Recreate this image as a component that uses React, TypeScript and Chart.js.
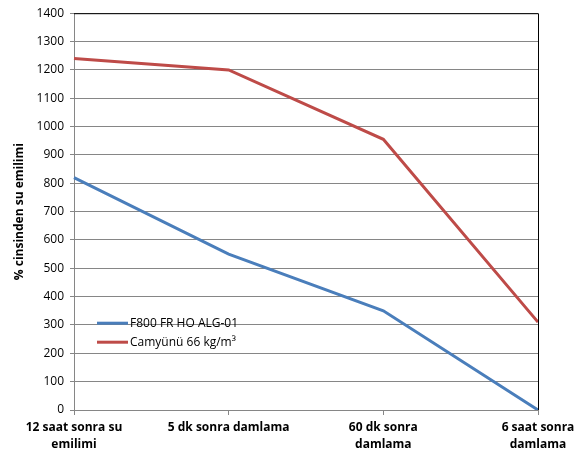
import React, { useEffect, useRef } from "react";
import { Chart, registerables } from "chart.js";

Chart.register(...registerables);

const categories: (string | string[])[] = [
  ["12 saat sonra su", "emilimi"],
  "5 dk sonra damlama",
  ["60 dk sonra", "damlama"],
  ["6 saat sonra", "damlama"],
];
const seriesF800 = [820, 550, 350, 0];
const seriesCamyunu = [1240, 1200, 955, 310];
const seriesNames = ["F800 FR HO ALG-01", "Camyünü 66 kg/m³"];
const seriesColors = ["#4A7EBB", "#BE4B48"];
const yTitle = "% cinsinden su emilimi";

const FONT = "'Open Sans', 'Liberation Sans', sans-serif";

const legendPlugin = {
  id: "insideLegend",
  afterDraw(chart: any) {
    const { ctx, chartArea } = chart;
    ctx.save();
    ctx.strokeStyle = "#000";
    ctx.lineWidth = 1;
    ctx.beginPath();
    ctx.moveTo(chartArea.left, chartArea.top + 0.5);
    ctx.lineTo(chartArea.right + 0.5, chartArea.top + 0.5);
    ctx.lineTo(chartArea.right + 0.5, chartArea.bottom);
    ctx.stroke();
    const x0 = chartArea.left + 23;
    const y0 = chartArea.top + 310;
    chart.data.datasets.forEach((ds: any, i: number) => {
      const y = y0 + i * 19;
      ctx.strokeStyle = ds.borderColor;
      ctx.lineWidth = 3;
      ctx.beginPath();
      ctx.moveTo(x0, y);
      ctx.lineTo(x0 + 31, y);
      ctx.stroke();
      ctx.fillStyle = "#000";
      ctx.font = `12px ${FONT}`;
      ctx.textBaseline = "middle";
      ctx.textAlign = "left";
      ctx.fillText(ds.label, x0 + 33, y);
    });
    ctx.restore();
  },
};

export default function App() {
  const ref = useRef<HTMLCanvasElement>(null);
  useEffect(() => {
    if (!ref.current) return;
    const chart = new Chart(ref.current, {
      type: "line",
      data: {
        labels: categories,
        datasets: [
          {
            label: seriesNames[0],
            data: seriesF800,
            borderColor: seriesColors[0],
            backgroundColor: seriesColors[0],
            borderWidth: 3,
            pointRadius: 0,
            tension: 0,
          },
          {
            label: seriesNames[1],
            data: seriesCamyunu,
            borderColor: seriesColors[1],
            backgroundColor: seriesColors[1],
            borderWidth: 3,
            pointRadius: 0,
            tension: 0,
          },
        ],
      },
      options: {
        responsive: false,
        animation: false,
        layout: { padding: { left: 0, right: 50, top: 12, bottom: 0 } },
        plugins: {
          legend: { display: false },
          tooltip: { enabled: false },
        },
        scales: {
          x: {
            type: "category",
            offset: false,
            grid: {
              drawOnChartArea: false,
              drawTicks: true,
              tickLength: 5,
              color: "#868686",
            },
            border: { color: "#868686", width: 1 },
            ticks: {
              color: "#000",
              font: { family: FONT, size: 12, weight: "bold", lineHeight: 1.4 },
              maxRotation: 0,
              autoSkip: false,
              padding: 4,
            },
            afterFit(scale: any) {
              scale.height = 43;
            },
          },
          y: {
            min: 0,
            max: 1400,
            ticks: {
              stepSize: 100,
              color: "#000",
              font: { family: FONT, size: 12 },
              padding: 6,
              callback: (v: any) => String(v),
            },
            grid: {
              color: "#868686",
              lineWidth: 1,
              tickLength: 4,
            },
            border: { color: "#868686", width: 1 },
            title: {
              display: true,
              text: yTitle,
              color: "#000",
              font: { family: FONT, size: 12, weight: "bold" },
              padding: { top: 12, bottom: 0 },
            },
            afterFit(scale: any) {
              scale.width = 74;
            },
          },
        },
      },
      plugins: [legendPlugin],
    });
    return () => chart.destroy();
  }, []);
  return (
    <div style={{ position: "fixed", left: 0, top: 0, width: 588, height: 453, background: "#fff" }}>
      <canvas ref={ref} width={588} height={453} style={{ display: "block" }} />
    </div>
  );
}
